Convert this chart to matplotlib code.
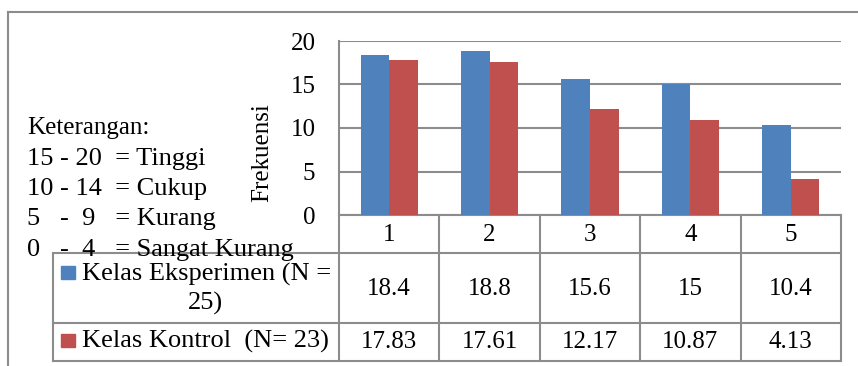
import matplotlib
matplotlib.use('Agg')
import matplotlib.pyplot as plt
from matplotlib.patches import Rectangle

# data
categories = ['1', '2', '3', '4', '5']
eksperimen = [18.4, 18.8, 15.6, 15, 10.4]
kontrol = [17.83, 17.61, 12.17, 10.87, 4.13]
eksperimen_labels = ['18.4', '18.8', '15.6', '15', '10.4']
kontrol_labels = ['17.83', '17.61', '12.17', '10.87', '4.13']
series_names = ['Kelas Eksperimen (N =\n25)', 'Kelas Kontrol  (N= 23)']
keterangan = ['Keterangan:', '15 - 20  = Tinggi', '10 - 14  = Cukup',
              '5   -  9   = Kurang', '0   -  4   = Sangat Kurang']
yticks = [0, 5, 10, 15, 20]

plt.rcParams['font.family'] = 'serif'
plt.rcParams['font.serif'] = ['Liberation Serif', 'Times New Roman', 'DejaVu Serif']
FS = 18
FS_LEG = 19
BLUE = '#4F81BD'
RED = '#C0504D'
GRID = '#8C8C8C'

W, H = 858, 366
fig = plt.figure(figsize=(W / 100, H / 100), dpi=100)

# overlay in pixel coordinates for frame, table and notes
ov = fig.add_axes([0, 0, 1, 1])
ov.set_xlim(0, W)
ov.set_ylim(H, 0)
ov.axis('off')

# plot area geometry (pixels)
px0, px1 = 339, 841
py_top, py0 = 41, 215
colw = (px1 - px0) / len(categories)

ax = fig.add_axes([px0 / W, 1 - py0 / H, (px1 - px0) / W, (py0 - py_top) / H])
ax.set_facecolor('none')
x = list(range(len(categories)))
bw = 0.285
ax.bar([i - bw / 2 for i in x], eksperimen, bw, color=BLUE, zorder=3)
ax.bar([i + bw / 2 for i in x], kontrol, bw, color=RED, zorder=3)
ax.set_xlim(-0.5, len(categories) - 0.5)
ax.set_ylim(0, 20)
ax.set_yticks(yticks)
ax.set_xticks([])
ax.yaxis.grid(True, color=GRID, lw=1.5)
ax.set_axisbelow(True)
ax.tick_params(axis='y', length=0, pad=17, labelsize=FS)
for s in ['top', 'right']:
    ax.spines[s].set_visible(False)
for s in ['left', 'bottom']:
    ax.spines[s].set_color(GRID)
    ax.spines[s].set_linewidth(1.5)
ov.text(262, 153, 'Frekuensi', rotation=90, ha='center', va='center', fontsize=FS)

# outer chart frame
ov.plot([8, W], [12, 12], color=GRID, lw=1.5)
ov.plot([8, 8], [12, H], color=GRID, lw=1.5)

# data table
r1, r2, r3 = 253, 323, 361
lkw = dict(color=GRID, lw=1.5)
for yy in [r1, r2, r3]:
    ov.plot([53, px1], [yy, yy], **lkw)
ov.plot([53, 53], [r1, r3], **lkw)
ov.plot([px0, px0], [py0, r3], **lkw)
for i in range(1, len(categories) + 1):
    xx = px0 + i * colw
    ov.plot([xx, xx], [py0, r3], **lkw)

for i, c in enumerate(categories):
    cx = px0 + (i + 0.5) * colw
    ov.text(cx, 235, c, ha='center', va='center', fontsize=FS)
    ov.text(cx, 289, eksperimen_labels[i], ha='center', va='center', fontsize=FS)
    ov.text(cx, 342, kontrol_labels[i], ha='center', va='center', fontsize=FS)

# legend keys in table
ov.add_patch(Rectangle((61, 266), 14, 13, color=BLUE))
ov.add_patch(Rectangle((61, 334), 14, 13, color=RED))
l1, l2 = series_names[0].split('\n')
ov.text(82, 274, l1, ha='left', va='center', fontsize=FS_LEG)
ov.text(205, 303, l2, ha='center', va='center', fontsize=FS_LEG)
ov.text(82, 341, series_names[1], ha='left', va='center', fontsize=FS_LEG)

# notes on the left
for k, line in enumerate(keterangan):
    ov.text(27, 128 + k * 30.5, line, ha='left', va='center',
            fontsize=FS if k == 0 else FS_LEG)

fig.savefig('out.png', dpi=100)
